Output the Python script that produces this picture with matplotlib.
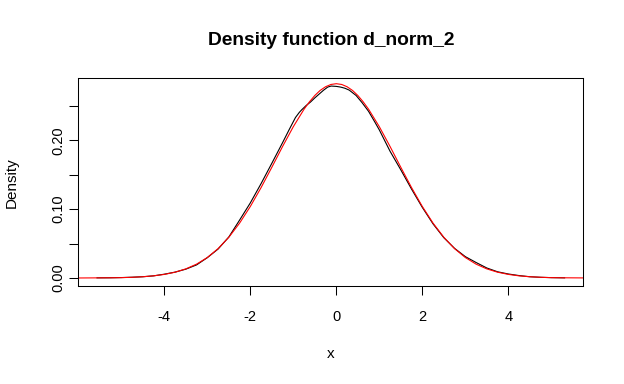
import matplotlib
matplotlib.use("Agg")
import matplotlib.pyplot as plt

# kernel density of the sample (black)
dens_x = [-5.565, -5.25, -5.0, -4.75, -4.5, -4.25, -4.0, -3.75, -3.5, -3.25,
          -3.0, -2.75, -2.5, -2.25, -2.0, -1.75, -1.5, -1.25, -1.1, -0.95,
          -0.86, -0.8, -0.7, -0.6, -0.5, -0.4, -0.3, -0.2, -0.12, 0.0,
          0.1, 0.2, 0.3, 0.46, 0.6, 0.75, 0.9, 1.0, 1.25, 1.5,
          1.75, 2.0, 2.25, 2.5, 2.75, 3.0, 3.25, 3.5, 3.75, 4.0,
          4.25, 4.5, 4.75, 5.0, 5.309]
dens_y = [0.0002, 0.0003, 0.0006, 0.0011, 0.0018, 0.0031, 0.0055, 0.0085, 0.0128, 0.0190,
          0.0295, 0.0420, 0.0595, 0.0840, 0.1090, 0.1370, 0.1665, 0.1965, 0.2150, 0.2330,
          0.2405, 0.2445, 0.2505, 0.2555, 0.2615, 0.2670, 0.2725, 0.2772, 0.2787, 0.2782,
          0.2772, 0.2755, 0.2728, 0.2650, 0.2545, 0.2420, 0.2260, 0.2150, 0.1840, 0.1570,
          0.1290, 0.1025, 0.0785, 0.0585, 0.0430, 0.0310, 0.0225, 0.0145, 0.0090, 0.0058,
          0.0035, 0.0018, 0.0010, 0.0005, 0.0002]

# theoretical normal curve (red)
norm_x = [-6.0, -5.75, -5.5, -5.25, -5.0, -4.75, -4.5, -4.25, -4.0, -3.75,
          -3.5, -3.25, -3.0, -2.75, -2.5, -2.25, -2.0, -1.75, -1.5, -1.25,
          -1.0, -0.75, -0.625, -0.5, -0.375, -0.25, -0.125, 0.0, 0.125, 0.25,
          0.375, 0.5, 0.625, 0.75, 1.0, 1.25,
          1.5, 1.75, 2.0, 2.25, 2.5, 2.75, 3.0, 3.25, 3.5, 3.75,
          4.0, 4.25, 4.5, 4.75, 5.0, 5.25, 5.5, 5.744]
norm_y = [0.0000, 0.0001, 0.0002, 0.0003, 0.0005, 0.0010, 0.0018, 0.0031, 0.0052, 0.0084,
          0.0132, 0.0201, 0.0297, 0.0426, 0.0591, 0.0796, 0.1038, 0.1312, 0.1607, 0.1909,
          0.2197, 0.2451, 0.2558, 0.2650, 0.2724, 0.2777, 0.2810, 0.2821, 0.2810, 0.2777,
          0.2724, 0.2650, 0.2558, 0.2451, 0.2197, 0.1909,
          0.1607, 0.1312, 0.1038, 0.0796, 0.0591, 0.0426, 0.0297, 0.0201, 0.0132, 0.0084,
          0.0052, 0.0031, 0.0018, 0.0010, 0.0005, 0.0003, 0.0002, 0.0001]

x_ticks = [-4, -2, 0, 2, 4]
y_ticks = [0.0, 0.05, 0.10, 0.15, 0.20, 0.25]
y_labels = ["0.00", "", "0.10", "", "0.20", ""]

plt.rcParams['font.family'] = ['Liberation Sans', 'DejaVu Sans']

fig = plt.figure(figsize=(6.24, 3.84), dpi=100)
ax = fig.add_axes([0.1255, 0.256, 0.8093, 0.540])

ax.plot(dens_x, dens_y, color='black', lw=0.8)
ax.plot(norm_x, norm_y, color='red', lw=0.8)

ax.set_xlim(-6.0, 5.744)
ax.set_ylim(-0.0112, 0.2899)
ax.set_xticks(x_ticks)
ax.set_xticklabels([str(t) for t in x_ticks])
ax.set_yticks(y_ticks)
ax.set_yticklabels(y_labels, rotation=90, va='center')
ax.tick_params(direction='out', length=6.5, width=0.75, labelsize=10.5)
ax.tick_params(axis='x', pad=11)
ax.tick_params(axis='y', pad=2.5)
for s in ax.spines.values():
    s.set_linewidth(0.75)

fig.text(331.5/624, 1 - 45/384, "Density function d_norm_2", ha='center', va='baseline',
         fontsize=13.8, fontweight='bold')
fig.text(330.5/624, 1 - 358/384, "x", ha='center', va='baseline', fontsize=11)
fig.text(16/624, 1 - 182.5/384, "Density", ha='center', va='baseline', rotation=90,
         rotation_mode='anchor', fontsize=11)

fig.savefig("out.png", dpi=100)
